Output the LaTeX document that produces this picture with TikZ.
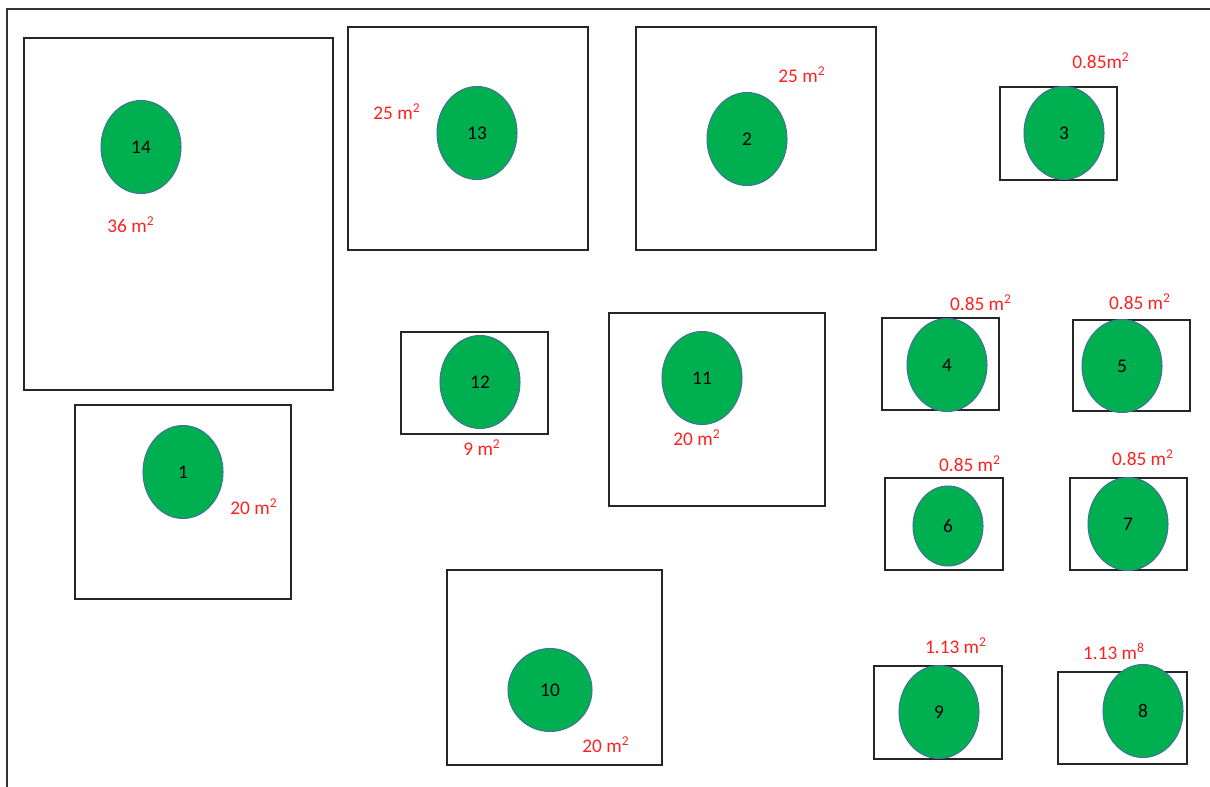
\documentclass[tikz,border=0pt]{standalone}
\usepackage{fontspec}
\setmainfont{Carlito}
\usepackage{xcolor}
\usetikzlibrary{shapes.geometric, positioning}

\definecolor{treegreen}{HTML}{00B050}
\definecolor{treeedge}{HTML}{41719C}
\definecolor{arealabel}{HTML}{FF2020}

\begin{document}
\begin{tikzpicture}[
  x=0.02cm, y=-0.02cm,
  plot/.style={draw=black!85, line width=0.8pt},
  tree/.style={ellipse, draw=treeedge, fill=treegreen, line width=0.6pt,
    minimum width=1.6cm, minimum height=1.86cm, inner sep=0pt, font=\fontsize{11}{13}\selectfont},
  small tree/.style={tree, minimum width=1.4cm, minimum height=1.6cm},
  area/.style={text=arealabel, font=\fontsize{11}{13}\selectfont, inner sep=1pt},
]
\useasboundingbox (0,0) rectangle (1210,787);
% outer frame
\draw[line width=1pt, black!80] (7,787) -- (7,9) -- (1210,9);

% plots
\draw[plot] (24,38) rectangle (333,390);    % 14
\draw[plot] (348,27) rectangle (588,250);   % 13
\draw[plot] (636,27) rectangle (876,250);   % 2
\draw[plot] (1000,87) rectangle (1117,180); % 3
\draw[plot] (75,405) rectangle (291,599);   % 1
\draw[plot] (401,332) rectangle (548,434);  % 12
\draw[plot] (609,313) rectangle (825,506);  % 11
\draw[plot] (882,318) rectangle (999,410);  % 4
\draw[plot] (1073,320) rectangle (1190,411);% 5
\draw[plot] (885,478) rectangle (1003,570); % 6
\draw[plot] (1070,478) rectangle (1187,570);% 7
\draw[plot] (447,570) rectangle (662,765);  % 10
\draw[plot] (874,666) rectangle (1002,759); % 9
\draw[plot] (1058,672) rectangle (1187,764);% 8

% trees
\node[tree] (t14) at (141,147) {14};
\node[tree] (t13) at (477,133) {13};
\node[tree] (t2)  at (747,139) {2};
\node[tree] (t3)  at (1064,133) {3};
\node[tree] (t12) at (480,382) {12};
\node[tree] (t11) at (702,378) {11};
\node[tree] (t1)  at (183,472) {1};
\node[tree] (t4)  at (947,365) {4};
\node[tree] (t5)  at (1122,366) {5};
\node[small tree] (t6) at (948,526) {6};
\node[tree] (t7)  at (1128,524) {7};
\node[tree, minimum width=1.68cm, minimum height=1.66cm] (t10) at (550,690) {10};
\node[tree] (t9)  at (939,712) {9};
\node[tree] (t8)  at (1143,711) {8};

% areas
\node[area] (a14) at (131,225) {36 m\textsuperscript{2}};
\node[area] (a13) at (397,112) {25 m\textsuperscript{2}};
\node[area] (a2)  at (802,75)  {25 m\textsuperscript{2}};
\node[area] (a3)  at (1101,61) {0.85m\textsuperscript{2}};
\node[area] (a4)  at (981,303) {0.85 m\textsuperscript{2}};
\node[area] (a5)  at (1140,302) {0.85 m\textsuperscript{2}};
\node[area] (a12) at (482,448) {9 m\textsuperscript{2}};
\node[area] (a11) at (697,438) {20 m\textsuperscript{2}};
\node[area] (a1)  at (254,507) {20 m\textsuperscript{2}};
\node[area] (a6)  at (970,464) {0.85 m\textsuperscript{2}};
\node[area] (a7)  at (1143,458) {0.85 m\textsuperscript{2}};
\node[area] (a9)  at (956,646) {1.13 m\textsuperscript{2}};
\node[area] (a8)  at (1114,651) {1.13 m\textsuperscript{8}};
\node[area] (a10) at (606,745) {20 m\textsuperscript{2}};
\end{tikzpicture}
\end{document}
